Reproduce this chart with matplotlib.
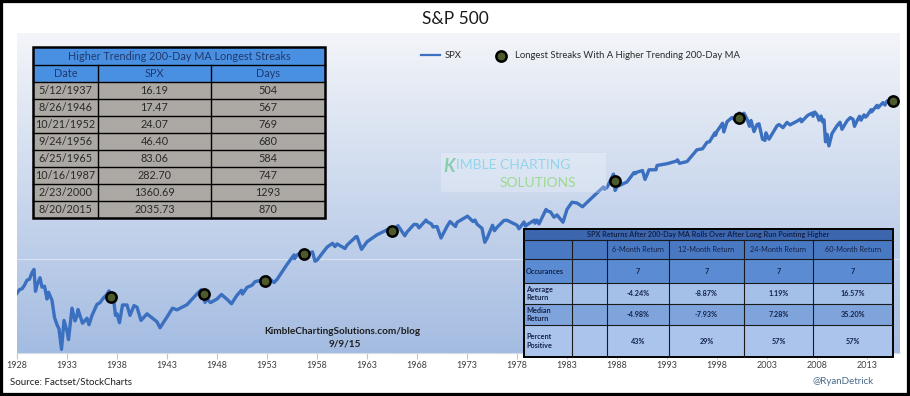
import matplotlib
matplotlib.use("Agg")
import matplotlib.pyplot as plt
import numpy as np
from matplotlib.patches import Rectangle
from matplotlib.colors import LinearSegmentedColormap

plt.rcParams['font.family'] = ['Lato', 'DejaVu Sans']

# S&P 500 path (decimal year, index level)
spx_dates = [1928.0, 1928.25, 1928.5, 1928.75, 1929.0, 1929.25, 1929.5, 1929.7, 1929.85, 1930.0,
             1930.3, 1930.5, 1930.75, 1931.0, 1931.15, 1931.5, 1931.75, 1932.0, 1932.2, 1932.45,
             1932.7, 1933.0, 1933.15, 1933.5, 1933.8, 1934.0, 1934.1, 1934.55, 1935.0, 1935.2,
             1935.5, 1936.0, 1936.3, 1936.6, 1937.0, 1937.2, 1937.36, 1937.45, 1937.6, 1937.85,
             1938.0, 1938.25, 1938.55, 1939.0, 1939.3, 1939.7, 1940.0, 1940.4, 1941.0, 1941.5,
             1942.0, 1942.3, 1943.0, 1943.55, 1944.0, 1945.0, 1946.0, 1946.4, 1946.65, 1946.8,
             1947.0, 1947.35, 1948.0, 1948.45, 1949.0, 1949.45, 1950.0, 1950.45, 1950.55, 1951.0,
             1951.5, 1951.8, 1952.0, 1952.5, 1952.8, 1953.0, 1953.7, 1954.0, 1955.0, 1955.7,
             1955.75, 1956.0, 1956.6, 1956.73, 1956.9, 1957.0, 1957.55, 1957.8, 1958.0, 1959.0,
             1959.55, 1959.8, 1960.0, 1960.8, 1961.0, 1961.9, 1962.0, 1962.45, 1963.0, 1964.0,
             1965.0, 1965.45, 1965.48, 1966.0, 1966.1, 1966.78, 1967.0, 1967.7, 1968.0, 1968.2,
             1968.9, 1969.0, 1969.45, 1969.6, 1970.0, 1970.4, 1971.0, 1971.3, 1971.85, 1972.0,
             1973.0, 1973.05, 1973.6, 1973.8, 1974.0, 1974.5, 1974.78, 1975.0, 1975.55, 1975.75,
             1976.0, 1976.7, 1977.0, 1978.0, 1978.2, 1978.7, 1978.85, 1979.0, 1979.75, 1979.8,
             1980.0, 1980.2, 1980.9, 1981.0, 1981.35, 1981.7, 1982.0, 1982.6, 1983.0, 1983.5,
             1984.0, 1984.55, 1985.0, 1986.0, 1986.65, 1986.75, 1987.0, 1987.65, 1987.79, 1987.81,
             1988.0, 1989.0, 1989.7, 1989.8, 1990.0, 1990.55, 1990.8, 1991.0, 1991.2, 1991.9,
             1992.0, 1993.0, 1994.0, 1994.05, 1994.25, 1995.0, 1996.0, 1996.55, 1997.0, 1997.25,
             1997.8, 1997.85, 1998.0, 1998.55, 1998.68, 1999.0, 1999.5, 1999.8, 2000.0, 2000.15,
             2000.23, 2000.3, 2000.7, 2001.0, 2001.25, 2001.4, 2001.7, 2002.0, 2002.2, 2002.55,
             2002.8, 2002.9, 2003.0, 2003.2, 2004.0, 2004.2, 2004.6, 2005.0, 2005.3, 2006.0,
             2006.35, 2006.45, 2007.0, 2007.15, 2007.55, 2007.6, 2007.78, 2008.0, 2008.2, 2008.4,
             2008.55, 2008.7, 2008.85, 2009.0, 2009.19, 2009.5, 2010.0, 2010.3, 2010.5, 2011.0,
             2011.33, 2011.6, 2011.75, 2012.0, 2012.25, 2012.4, 2012.7, 2012.85, 2013.0, 2013.4,
             2013.45, 2014.0, 2014.1, 2014.6, 2014.8, 2015.0, 2015.05, 2015.4, 2015.55, 2015.6,
             2015.64]
spx_values = [17.7, 19.3, 19.7, 21.5, 24.4, 25.0, 29.4, 31.8, 18.5, 21.5,
              25.9, 20.5, 21.0, 15.3, 18.1, 14.8, 9.7, 8.1, 7.3, 4.4,
              9.0, 6.9, 5.6, 12.2, 8.9, 10.1, 11.8, 8.4, 9.5, 8.1,
              10.2, 13.4, 14.0, 15.5, 17.2, 18.7, 16.19, 15.2, 17.0, 10.2,
              10.6, 8.5, 13.2, 13.2, 10.2, 13.0, 12.5, 9.0, 10.6, 9.6,
              8.7, 7.5, 9.8, 12.2, 11.7, 13.3, 17.4, 19.2, 17.47, 14.1,
              15.3, 14.0, 15.3, 17.1, 15.2, 13.6, 16.8, 19.0, 17.3, 20.4,
              21.5, 23.5, 23.8, 24.5, 24.07, 26.6, 23.0, 24.8, 36.0, 45.6,
              41.5, 45.5, 49.7, 46.40, 45.0, 46.7, 49.1, 39.0, 40.0, 55.2,
              60.7, 56.0, 59.9, 53.4, 58.1, 71.6, 71.6, 52.3, 63.1, 75.0,
              84.8, 84.1, 83.06, 92.4, 94.0, 73.2, 80.3, 97.0, 96.5, 89.0,
              108.0, 103.9, 98.0, 91.0, 92.1, 69.3, 92.2, 104.0, 92.0, 102.0,
              118.0, 119.0, 104.0, 108.0, 97.6, 88.0, 62.3, 68.6, 95.0, 83.0,
              90.2, 107.0, 107.5, 95.1, 87.0, 103.0, 93.0, 96.1, 108.0, 100.0,
              107.9, 98.2, 140.5, 135.8, 132.0, 116.0, 122.6, 102.4, 140.6, 168.0,
              164.9, 150.0, 167.2, 211.3, 245.0, 231.0, 242.2, 336.8, 282.70, 224.8,
              247.1, 277.7, 350.0, 340.0, 353.4, 368.0, 295.5, 330.2, 375.0, 375.0,
              417.1, 435.7, 466.5, 480.0, 440.0, 459.3, 615.9, 630.0, 740.7, 750.0,
              940.0, 880.0, 970.4, 1186.0, 957.0, 1229.0, 1370.0, 1280.0, 1469.0, 1360.69,
              1527.0, 1400.0, 1520.0, 1320.0, 1100.0, 1270.0, 965.0, 1148.0, 1170.0, 800.0,
              776.0, 936.0, 880.0, 800.0, 1112.0, 1150.0, 1065.0, 1212.0, 1140.0, 1248.0,
              1320.0, 1230.0, 1418.0, 1460.0, 1530.0, 1410.0, 1565.0, 1468.0, 1280.0, 1420.0,
              1230.0, 1290.0, 750.0, 903.0, 677.0, 920.0, 1115.0, 1217.0, 1022.0, 1258.0,
              1364.0, 1310.0, 1099.0, 1258.0, 1410.0, 1280.0, 1460.0, 1380.0, 1426.0, 1660.0,
              1570.0, 1848.0, 1740.0, 1980.0, 1860.0, 2059.0, 1990.0, 2131.0, 2060.0, 2130.0,
              2035.73]

# Longest streak markers
streak_dates = [1937.36, 1946.65, 1952.80, 1956.73, 1965.48, 1987.79, 2000.15, 2015.64]
streak_values = [16.19, 17.47, 24.07, 46.40, 83.06, 282.70, 1360.69, 2035.73]

# Left table
streak_table_title = "Higher Trending 200-Day MA Longest Streaks"
streak_headers = ["Date", "SPX", "Days"]
streak_labels = ["5/12/1937", "8/26/1946", "10/21/1952", "9/24/1956",
                 "6/25/1965", "10/16/1987", "2/23/2000", "8/20/2015"]
streak_spx = ["16.19", "17.47", "24.07", "46.40", "83.06", "282.70", "1360.69", "2035.73"]
streak_days = ["504", "567", "769", "680", "584", "747", "1293", "870"]

# Right table
returns_title = "SPX Returns After 200-Day MA Rolls Over After Long Run Pointing Higher"
returns_headers = ["6-Month Return", "12-Month Return", "24-Month Return", "60-Month Return"]
returns_rows = ["Occurances", "Average\nReturn", "Median\nReturn", "Percent\nPositive"]
returns_values = [["7", "7", "7", "7"],
                  ["-4.24%", "-8.87%", "1.19%", "16.57%"],
                  ["-4.98%", "-7.93%", "7.28%", "35.20%"],
                  ["43%", "29%", "57%", "57%"]]

year_ticks = list(range(1928, 2014, 5))

W, H = 910, 396


def box(x0, y0, x1, y1):
    return [x0 / W, 1 - y1 / H, (x1 - x0) / W, (y1 - y0) / H]


fig = plt.figure(figsize=(W / 100, H / 100), dpi=100)
fig.patch.set_facecolor("white")

ax = fig.add_axes(box(17, 33, 900, 353))
grad = LinearSegmentedColormap.from_list("bg", ["#a4bce2", "#cbd8ed", "#f3f5f9"])
ax.imshow(np.linspace(0, 1, 256).reshape(-1, 1)[::-1], cmap=grad, aspect="auto",
          extent=[0, 1, 0, 1], transform=ax.transAxes, zorder=0)
ax.axhline(41, color="#d8e1f0", lw=0.8, zorder=1)

ax.plot(spx_dates, spx_values, color="#3b6fbf", lw=2.4, zorder=3, label="SPX")
ax.scatter(streak_dates, streak_values, s=55, facecolor="#4d5a2c", edgecolor="black",
           linewidth=1.8, zorder=4, label="Longest Streaks With A Higher Trending 200-Day MA")

ax.set_yscale("log")
ax.set_ylim(4.02, 11080)
ax.set_xlim(1928, 2016.3)
ax.set_yticks([])
ax.minorticks_off()
ax.set_xticks(year_ticks)
ax.set_xticklabels([str(y) for y in year_ticks])
ax.tick_params(axis="x", direction="out", length=4, color="#c4c4c4", labelsize=6.5,
               labelcolor="#404040", pad=2)
for s in ["top", "left", "right"]:
    ax.spines[s].set_visible(False)
ax.spines["bottom"].set_color("#d4dbe6")
ax.spines["bottom"].set_linewidth(0.8)

leg = ax.legend(loc="upper left", bbox_to_anchor=(400 / 883 - 0.005, 1 - 10 / 320), ncol=2,
                frameon=False, fontsize=6.8, handlelength=2.0, columnspacing=3.2,
                handletextpad=0.5)
for t in leg.get_texts():
    t.set_color("#2a2a2a")
leg.get_lines()[0].set_linewidth(1.6)

# overlay in pixel coordinates for tables and annotations
ov = fig.add_axes([0, 0, 1, 1], zorder=10)
ov.set_xlim(0, W)
ov.set_ylim(H, 0)
ov.axis("off")
ov.patch.set_alpha(0)

fig.text(0.5, 1 - 19 / H, "S&P 500", ha="center", va="center", fontsize=12.5, color="#1a1a1a")

# left table
lx = [33, 98, 211, 325]
ly = [47, 65, 82] + [82 + 17 * (i + 1) for i in range(len(streak_labels))]
ov.add_patch(Rectangle((lx[0], ly[0]), lx[-1] - lx[0], ly[2] - ly[0], facecolor="#4a90e2",
                       edgecolor="none"))
ov.add_patch(Rectangle((lx[0], ly[2]), lx[-1] - lx[0], ly[-1] - ly[2], facecolor="#aca8a4",
                       edgecolor="none"))
ov.text((lx[0] + lx[-1]) / 2, (ly[0] + ly[1]) / 2, streak_table_title, ha="center",
        va="center", fontsize=7.8, color="#1f3a70")
for j, hd in enumerate(streak_headers):
    ov.text((lx[j] + lx[j + 1]) / 2, (ly[1] + ly[2]) / 2, hd, ha="center", va="center",
            fontsize=7.8, color="#1f3a70")
for i in range(len(streak_labels)):
    yc = (ly[i + 2] + ly[i + 3]) / 2
    for j, val in enumerate([streak_labels[i], streak_spx[i], streak_days[i]]):
        ov.text((lx[j] + lx[j + 1]) / 2, yc, val, ha="center", va="center", fontsize=7.8,
                color="#2a2a2a")
for y in ly[1:-1]:
    ov.plot([lx[0], lx[-1]], [y, y], color="black", lw=1.0)
for x in lx[1:-1]:
    ov.plot([x, x], [ly[1], ly[-1]], color="black", lw=1.0)
ov.add_patch(Rectangle((lx[0], ly[0]), lx[-1] - lx[0], ly[-1] - ly[0], facecolor="none",
                       edgecolor="black", lw=1.8))

# right table
rx = [524, 572, 607, 669, 744, 813, 893]
ry = [229, 240, 259, 283, 304, 325, 357]
row_colors = ["#3c67af", "#4a79c3", "#5b8cd3", "#a4c0e9", "#7fa4dc", "#aac4eb"]
for i, c in enumerate(row_colors):
    ov.add_patch(Rectangle((rx[0], ry[i]), rx[-1] - rx[0], ry[i + 1] - ry[i], facecolor=c,
                           edgecolor="none"))
ov.text((rx[0] + rx[-1]) / 2, (ry[0] + ry[1]) / 2, returns_title, ha="center", va="center",
        fontsize=5.2, fontweight="bold", color="#14234a")
for j, hd in enumerate(returns_headers):
    ov.text((rx[j + 2] + rx[j + 3]) / 2, (ry[1] + ry[2]) / 2, hd, ha="center", va="center",
            fontsize=5.2, color="#14234a")
for i, lab in enumerate(returns_rows):
    yc = (ry[i + 2] + ry[i + 3]) / 2
    ov.text(rx[0] + 2, yc, lab, ha="left", va="center", fontsize=5.2, fontweight="bold",
            color="#14234a", linespacing=1.3)
    for j, val in enumerate(returns_values[i]):
        ov.text((rx[j + 2] + rx[j + 3]) / 2, yc, val, ha="center", va="center", fontsize=5.2,
                fontweight="bold", color="#14234a")
for y in ry[1:-1]:
    ov.plot([rx[0], rx[-1]], [y, y], color="#1a1a1a", lw=0.8)
for x in rx[1:-1]:
    ov.plot([x, x], [ry[1], ry[-1]], color="#1a1a1a", lw=0.8)
ov.add_patch(Rectangle((rx[0], ry[0]), rx[-1] - rx[0], ry[-1] - ry[0], facecolor="none",
                       edgecolor="black", lw=1.4))

# watermark
ov.add_patch(Rectangle((440, 152), 166, 40, facecolor="white", alpha=0.25,
                       edgecolor="#b8d0ea", lw=0.6))
ov.text(443, 166, "K", ha="left", va="center", fontsize=13, fontweight="bold",
        color="#72c9a0", alpha=0.8, style="italic")
ov.text(456, 165, "IMBLE CHARTING", ha="left", va="center", fontsize=10,
        color="#8ad3ea", alpha=0.9)
ov.text(538, 183, "SOLUTIONS", ha="center", va="center", fontsize=10,
        color="#96d884", alpha=0.9)

ov.text(342, 331, "KimbleChartingSolutions.com/blog", ha="center", va="center", fontsize=7.2,
        fontweight="bold", color="#1e1e1e")
ov.text(345, 344, "9/9/15", ha="center", va="center", fontsize=7.2, fontweight="bold",
        color="#1e1e1e")

ov.text(10, 382, "Source: Factset/StockCharts", ha="left", va="center", fontsize=7,
        color="#1e1e1e")
ov.text(874, 382, "@RyanDetrick", ha="right", va="center", fontsize=7, color="#4a6a8a")

# black frame
fig.patches.append(Rectangle((0, 0), 1, 1, transform=fig.transFigure, fill=False,
                             edgecolor="black", lw=4.5))

fig.savefig("out.png", dpi=100)
